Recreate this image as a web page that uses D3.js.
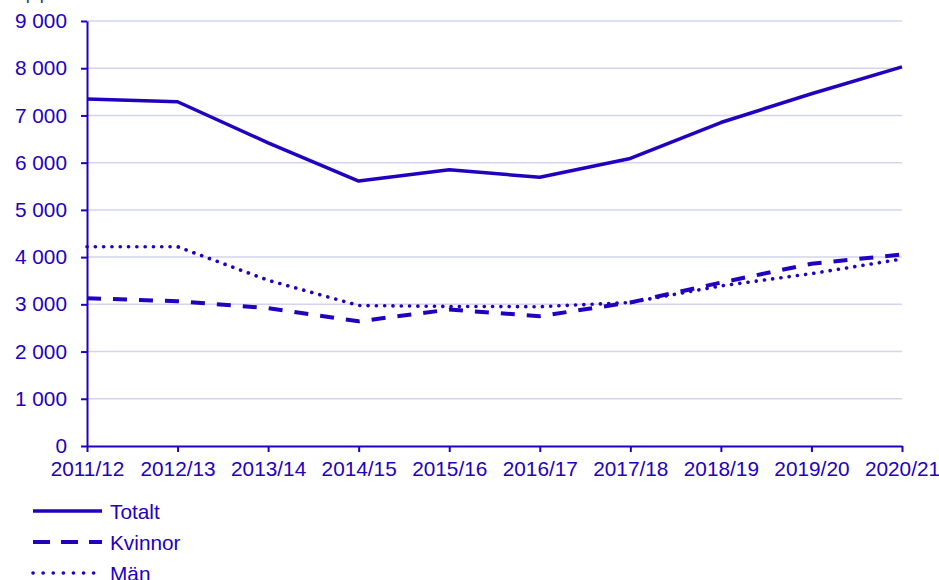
<!DOCTYPE html>
<html>
<head>
<meta charset="utf-8">
<script src="https://cdn.jsdelivr.net/npm/d3@7"></script>
<style>
  body { margin: 0; background: #fff; }
  svg { display: block; font-family: "Liberation Sans", Arial, sans-serif; }
</style>
</head>
<body>
<svg id="chart"></svg>
<script>
// DATA
const years = ["2011/12", "2012/13", "2013/14", "2014/15", "2015/16", "2016/17", "2017/18", "2018/19", "2019/20", "2020/21"];
const totalt = [7350, 7290, 6420, 5610, 5850, 5690, 6090, 6850, 7460, 8030];
const kvinnor = [3130, 3065, 2920, 2640, 2890, 2750, 3040, 3460, 3860, 4055];
const man = [4220, 4220, 3510, 2975, 2955, 2950, 3040, 3390, 3650, 3960];
const yTicks = [0, 1000, 2000, 3000, 4000, 5000, 6000, 7000, 8000, 9000];
const seriesNames = ["Totalt", "Kvinnor", "Män"];

const W = 939, H = 580;
const margin = {top: 21, right: 37, bottom: 134, left: 87};
const width = W - margin.left - margin.right,
      height = H - margin.top - margin.bottom;
const blue = "#2200bf";
const fontSize = 20.8;

const svg = d3.select("#chart")
    .attr("width", W)
    .attr("height", H);

// cut-off heading above the plot
svg.append("text")
    .attr("x", 26)
    .attr("y", 0)
    .attr("fill", "#222")
    .attr("font-size", 16)
    .attr("letter-spacing", 5)
    .text("pp");

const g = svg.append("g")
    .attr("transform", `translate(${margin.left}, ${margin.top})`);

const x = d3.scalePoint()
    .domain(years)
    .range([0, width]);
const y = d3.scaleLinear()
    .domain([0, 9000])
    .range([height, 0]);

// gridlines
g.append("g")
  .selectAll("line")
  .data(yTicks.filter(d => d > 0))
  .join("line")
    .attr("x1", 0)
    .attr("x2", width)
    .attr("y1", d => y(d))
    .attr("y2", d => y(d))
    .attr("stroke", "#d4d4ef")
    .attr("stroke-width", 1.5);

// axes
const fmt = d => d3.format(",")(d).replace(/,/g, " ");
const yAxis = g.append("g")
    .call(d3.axisLeft(y).tickValues(yTicks).tickFormat(fmt).tickSize(6).tickPadding(14).tickSizeOuter(0));
const xAxis = g.append("g")
    .attr("transform", `translate(0, ${height})`)
    .call(d3.axisBottom(x).tickSize(6).tickPadding(9).tickSizeOuter(0));
[yAxis, xAxis].forEach(a => {
    a.select(".domain").attr("stroke", blue).attr("stroke-width", 2);
    a.selectAll(".tick line").attr("stroke", blue).attr("stroke-width", 2);
    a.selectAll(".tick text").attr("fill", blue).attr("font-size", fontSize)
        .attr("font-family", "'Liberation Sans', Arial, sans-serif");
});

// series
const styles = [
    {data: totalt, width: 3.5, dash: null, cap: "butt"},
    {data: kvinnor, width: 4, dash: "14,12", cap: "butt"},
    {data: man, width: 3.6, dash: "0.1,8.2", cap: "round"}
];
const line = d3.line()
    .x((d, i) => x(years[i]))
    .y(d => y(d));

styles.forEach(s => {
    g.append("path")
      .datum(s.data)
      .attr("fill", "none")
      .attr("stroke", blue)
      .attr("stroke-width", s.width)
      .attr("stroke-dasharray", s.dash)
      .attr("stroke-linecap", s.cap)
      .attr("stroke-linejoin", "round")
      .attr("d", line);
});

// legend
const legend = svg.append("g")
    .attr("transform", "translate(33, 511)");
seriesNames.forEach((name, i) => {
    const row = legend.append("g").attr("transform", `translate(0, ${i * 31})`);
    row.append("line")
        .attr("x1", 0).attr("x2", 69)
        .attr("stroke", blue)
        .attr("stroke-width", styles[i].width)
        .attr("stroke-dasharray", i === 1 ? "17,11" : (i === 2 ? "0.1,10" : null))
        .attr("stroke-linecap", styles[i].cap);
    row.append("text")
        .attr("x", 77)
        .attr("dy", "0.36em")
        .attr("fill", blue)
        .attr("font-size", fontSize)
        .text(name);
});
</script>
</body>
</html>
